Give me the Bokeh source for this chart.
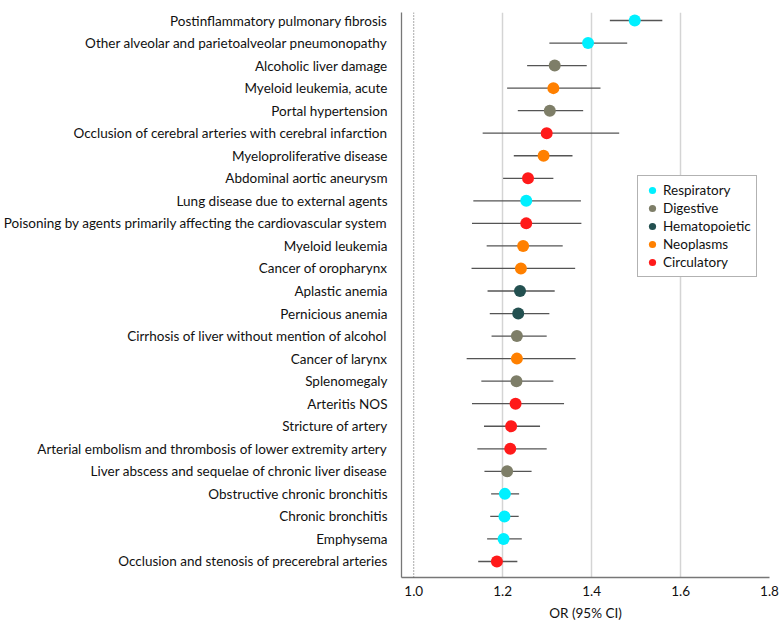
from bokeh.plotting import figure
from bokeh.models import FixedTicker, Span, PrintfTickFormatter, ColumnDataSource, Legend, LegendItem
from bokeh.embed import file_html
from bokeh.resources import INLINE

conditions = [
    "Postinflammatory pulmonary fibrosis",
    "Other alveolar and parietoalveolar pneumonopathy",
    "Alcoholic liver damage",
    "Myeloid leukemia, acute",
    "Portal hypertension",
    "Occlusion of cerebral arteries with cerebral infarction",
    "Myeloproliferative disease",
    "Abdominal aortic aneurysm",
    "Lung disease due to external agents",
    "Poisoning by agents primarily affecting the cardiovascular system",
    "Myeloid leukemia",
    "Cancer of oropharynx",
    "Aplastic anemia",
    "Pernicious anemia",
    "Cirrhosis of liver without mention of alcohol",
    "Cancer of larynx",
    "Splenomegaly",
    "Arteritis NOS",
    "Stricture of artery",
    "Arterial embolism and thrombosis of lower extremity artery",
    "Liver abscess and sequelae of chronic liver disease",
    "Obstructive chronic bronchitis",
    "Chronic bronchitis",
    "Emphysema",
    "Occlusion and stenosis of precerebral arteries",
]
groups = [
    "Respiratory", "Respiratory", "Digestive", "Neoplasms", "Digestive",
    "Circulatory", "Neoplasms", "Circulatory", "Respiratory", "Circulatory",
    "Neoplasms", "Neoplasms", "Hematopoietic", "Hematopoietic", "Digestive",
    "Neoplasms", "Digestive", "Circulatory", "Circulatory", "Circulatory",
    "Digestive", "Respiratory", "Respiratory", "Respiratory", "Circulatory",
]
odds_ratio = [1.497, 1.392, 1.317, 1.314, 1.306, 1.299, 1.292, 1.257, 1.253, 1.253,
              1.246, 1.241, 1.239, 1.235, 1.232, 1.232, 1.231, 1.229, 1.219, 1.217,
              1.210, 1.205, 1.204, 1.202, 1.187]
ci_low = [1.441, 1.305, 1.255, 1.210, 1.234, 1.155, 1.225, 1.201, 1.134, 1.131,
          1.164, 1.130, 1.166, 1.171, 1.175, 1.119, 1.152, 1.131, 1.158, 1.143,
          1.159, 1.174, 1.172, 1.165, 1.145]
ci_high = [1.559, 1.480, 1.389, 1.420, 1.381, 1.462, 1.357, 1.314, 1.376, 1.377,
           1.335, 1.363, 1.317, 1.305, 1.299, 1.364, 1.314, 1.338, 1.284, 1.299,
           1.265, 1.237, 1.236, 1.243, 1.233]
group_order = ["Respiratory", "Digestive", "Hematopoietic", "Neoplasms", "Circulatory"]
group_colors = {
    "Respiratory": "#00F0FF",
    "Digestive": "#7E7E68",
    "Hematopoietic": "#235050",
    "Neoplasms": "#FF8000",
    "Circulatory": "#FF1A1A",
}
x_ticks = [1.0, 1.2, 1.4, 1.6, 1.8]

n = len(conditions)
ypos = [n - i for i in range(n)]

FONT = "Lato"

p = figure(width=780, height=630, output_backend="svg", toolbar_location=None,
           x_range=(0.9725, 1.8), y_range=(0.29, n + 0.355),
           min_border_left=400, min_border_right=11, min_border_top=12, min_border_bottom=53)
p.outline_line_color = None

# CI lines
p.segment(x0=ci_low, x1=ci_high, y0=ypos, y1=ypos, line_color="#555555", line_width=1.3)

items = []
for g in group_order:
    idx = [i for i in range(n) if groups[i] == g]
    src = ColumnDataSource(dict(x=[odds_ratio[i] for i in idx], y=[ypos[i] for i in idx]))
    r = p.scatter("x", "y", source=src, size=12, fill_color=group_colors[g], line_color=None)
    items.append(LegendItem(label=g, renderers=[r]))

p.add_layout(Span(location=1.0, dimension="height", line_color="#555555",
                  line_dash="1 2", line_width=1))

# axes
p.yaxis.ticker = FixedTicker(ticks=ypos)
p.yaxis.major_label_overrides = {y: c for y, c in zip(ypos, conditions)}
p.yaxis.major_tick_line_color = None
p.yaxis.minor_tick_line_color = None
p.yaxis.axis_line_color = "#777777"
p.yaxis.axis_line_width = 1.3
p.yaxis.major_label_standoff = 8
p.yaxis.major_label_text_font = FONT
p.yaxis.major_label_text_font_size = "13.5px"
p.yaxis.major_label_text_color = "#111111"

p.xaxis.ticker = FixedTicker(ticks=x_ticks)
p.xaxis.formatter = PrintfTickFormatter(format="%.1f")
p.xaxis.major_tick_line_color = None
p.xaxis.minor_tick_line_color = None
p.xaxis.axis_line_color = "#777777"
p.xaxis.axis_line_width = 1.3
p.xaxis.major_label_standoff = 2
p.xaxis.major_label_text_font = FONT
p.xaxis.major_label_text_font_size = "13.5px"
p.xaxis.major_label_text_color = "#111111"
p.xaxis.axis_label = "OR (95% CI)"
p.xaxis.axis_label_text_font = FONT
p.xaxis.axis_label_text_font_size = "13.5px"
p.xaxis.axis_label_text_font_style = "normal"
p.xaxis.axis_label_text_color = "#111111"
p.xaxis.axis_label_standoff = 6

p.ygrid.grid_line_color = None
p.xgrid.ticker = FixedTicker(ticks=x_ticks[1:])
p.xgrid.grid_line_color = "#d4d4d4"
p.xgrid.grid_line_width = 1.5

legend = Legend(items=items, location=(236, 300))
legend.border_line_color = "#666666"
legend.border_line_width = 1.2
legend.label_text_font = FONT
legend.label_text_font_size = "13.5px"
legend.label_text_color = "#111111"
legend.glyph_width = 18
legend.glyph_height = 18
legend.label_height = 18
legend.label_standoff = 2
legend.spacing = 0
legend.padding = 5
legend.margin = 0
legend.background_fill_alpha = 1.0
p.add_layout(legend, "center")

open("out.html", "w").write(file_html(p, INLINE))
